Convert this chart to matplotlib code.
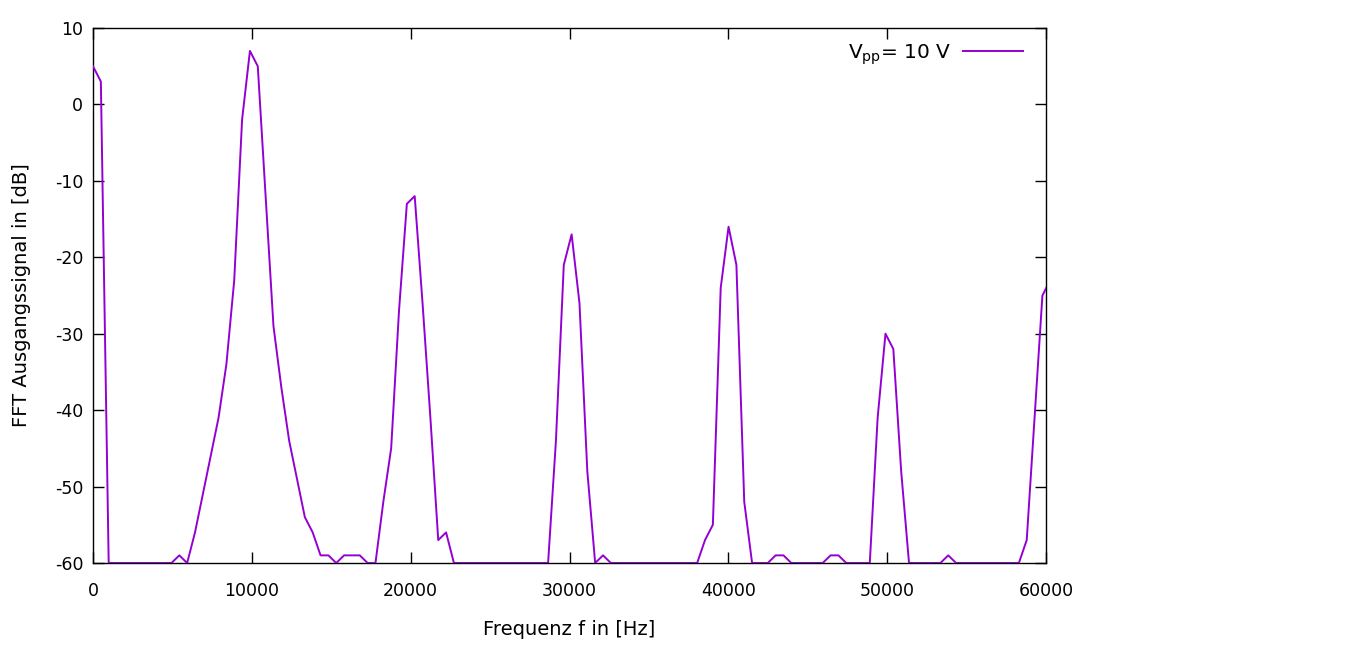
import numpy as np
import matplotlib
matplotlib.use("Agg")
import matplotlib.pyplot as plt

# FFT bins (dB), bin spacing in Hz
df_hz = 494.0
fft_db = [
    5, 3, -60, -60, -60, -60, -60, -60, -60, -60,
    -60, -59, -60, -56, -51, -46, -41, -34, -23, -2,
    7, 5, -12, -29, -37, -44, -49, -54, -56, -59,
    -59, -60, -59, -59, -59, -60, -60, -52, -45, -27,
    -13, -12, -26, -41, -57, -56, -60, -60, -60, -60,
    -60, -60, -60, -60, -60, -60, -60, -60, -60, -44,
    -21, -17, -26, -48, -60, -59, -60, -60, -60, -60,
    -60, -60, -60, -60, -60, -60, -60, -60, -57, -55,
    -24, -16, -21, -52, -60, -60, -60, -59, -59, -60,
    -60, -60, -60, -60, -59, -59, -60, -60, -60, -60,
    -41, -30, -32, -48, -60, -60, -60, -60, -60, -59,
    -60, -60, -60, -60, -60, -60, -60, -60, -60, -57,
    -41, -25, -23,
]
xticks = [0, 10000, 20000, 30000, 40000, 50000, 60000]
yticks = [-60, -50, -40, -30, -20, -10, 0, 10]
legend_label = r"V$_{\mathrm{pp}}$= 10 V"

plt.rcParams["font.family"] = ["DejaVu Sans"]
plt.rcParams["mathtext.default"] = "regular"
plt.rcParams["axes.unicode_minus"] = False
plt.rcParams["font.size"] = 12

freq = np.arange(len(fft_db)) * df_hz

fig = plt.figure(figsize=(13.66, 6.49), dpi=100)
ax = fig.add_axes([93 / 1366, (649 - 563) / 649, 953 / 1366, 535 / 649])

ax.plot(freq, fft_db, color="#9400d3", lw=1.4, label=legend_label, zorder=3)

ax.set_xlim(0, 60000)
ax.set_ylim(-60, 10)
ax.set_xticks(xticks)
ax.set_yticks(yticks)
ax.tick_params(direction="in", length=8, width=1, top=True, right=True,
               colors="black", labelsize=12.5)
ax.tick_params(axis="x", pad=14)
ax.tick_params(axis="y", pad=7)
for s in ax.spines.values():
    s.set_linewidth(1.0)

ax.set_xlabel("Frequenz f in [Hz]", fontsize=14, labelpad=14)
ax.set_ylabel("FFT Ausgangssignal in [dB]", fontsize=14, labelpad=17)

ax.legend(loc="upper right", bbox_to_anchor=((1023 - 93) / 953, 1 - 14 / 535),
          markerfirst=False, frameon=False, borderpad=0, borderaxespad=0,
          handlelength=3.0, handletextpad=0.55, fontsize=14.5)

fig.savefig("out.png", dpi=100)
